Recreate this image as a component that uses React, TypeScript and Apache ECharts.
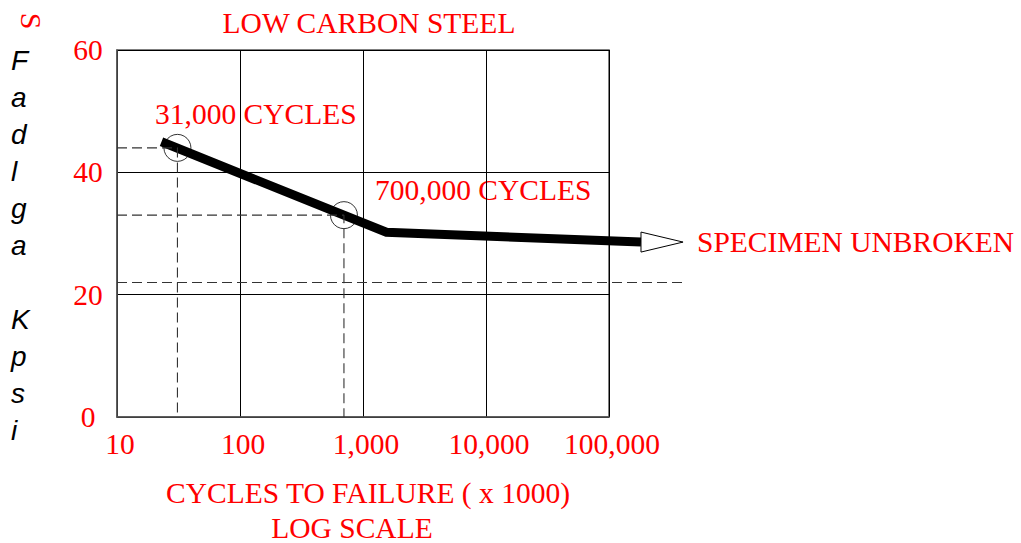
import React, { useEffect, useRef } from "react";
import * as echarts from "echarts";

// ---- data ----
const xMin = 10;
const xMax = 100000;
const yMin = 0;
const yMax = 60;
const yInterval = 20;
const curve: number[][] = [[23, 45], [1550, 30.2], [182000, 28.6]];
const arrowData: number[][] = [[182000, 28.6, 400000]];
const markedPoints: number[][] = [[31, 44], [700, 33]];
const guide31: number[][] = [[10, 44], [31, 44], [31, 0]];
const guide700: number[][] = [[10, 33], [700, 33], [700, 0]];
const enduranceLine: number[][] = [[10, 22], [400000, 22]];
const titleText = "LOW CARBON STEEL";
const xNameLine1 = "CYCLES TO FAILURE ( x 1000)";
const xNameLine2 = "LOG SCALE";
const note31 = "31,000 CYCLES";
const note700 = "700,000 CYCLES";
const noteUnbroken = "SPECIMEN UNBROKEN";
const yTitleLetters = ["F", "a", "d", "l", "g", "a", "", "K", "p", "s", "i"];
const yTitleTop = "S";

const RED = "#ff0000";
const SERIF = '"Liberation Serif", "Times New Roman", serif';
const SANS = '"Liberation Sans", Arial, sans-serif';
const DASH_COLOR = "#333333";
const FS = 29.5;

function redText(text: string, x: number, y: number, align: string = "left") {
  return {
    type: "text",
    x,
    y,
    style: {
      text,
      fill: RED,
      fontSize: FS,
      fontFamily: SERIF,
      align,
      verticalAlign: "middle",
    },
  };
}

// custom series drawing a whole polyline (unclipped) through the axis scales
function polylineSeries(points: number[][], style: any) {
  return {
    type: "custom",
    data: points,
    clip: false,
    silent: true,
    renderItem: (params: any, api: any) => {
      if (params.dataIndex !== 0) return null;
      const pts = points.map((p) => api.coord(p));
      return {
        type: "polyline",
        shape: { points: pts },
        style: { fill: "none", ...style },
      };
    },
  };
}

export default function App() {
  const ref = useRef<HTMLDivElement>(null);

  useEffect(() => {
    if (!ref.current) return;
    const chart = echarts.init(ref.current, undefined, { renderer: "svg" });

    const letterEls = yTitleLetters
      .map((ch, i) => ({ ch, i }))
      .filter((o) => o.ch !== "")
      .map((o) => ({
        type: "text",
        x: 11,
        y: 60.5 + o.i * 37,
        style: {
          text: o.ch,
          fill: "#000",
          fontSize: 28,
          fontStyle: "italic",
          fontFamily: SANS,
          align: "left",
          verticalAlign: "middle",
        },
      }));

    const dashed = { color: DASH_COLOR, width: 1.1, type: [10, 5] as any };

    chart.setOption({
      animation: false,
      grid: {
        left: 117,
        right: 412,
        top: 50,
        bottom: 126,
        show: true,
        borderColor: "#555",
        borderWidth: 1.5,
      },
      xAxis: {
        type: "log",
        logBase: 10,
        min: xMin,
        max: xMax,
        axisLine: { show: true, lineStyle: { color: "#555", width: 1.5 } },
        axisTick: { show: false },
        splitLine: { show: true, lineStyle: { color: "#000", width: 1 } },
        axisLabel: {
          color: RED,
          fontFamily: SERIF,
          fontSize: FS,
          margin: 12,
          padding: [0, 0, 0, 6],
          formatter: (v: number) => Math.round(v).toLocaleString("en-US"),
        },
      },
      yAxis: {
        type: "value",
        min: yMin,
        max: yMax,
        interval: yInterval,
        axisLine: { show: true, lineStyle: { color: "#555", width: 1.5 } },
        axisTick: { show: false },
        splitLine: { show: true, lineStyle: { color: "#000", width: 1 } },
        axisLabel: {
          color: RED,
          fontFamily: SERIF,
          fontSize: FS,
          align: "center",
          margin: 29,
        },
      },
      series: [
        {
          type: "line",
          data: guide31,
          symbol: "none",
          clip: false,
          lineStyle: dashed,
          silent: true,
        },
        {
          type: "line",
          data: guide700,
          symbol: "none",
          clip: false,
          lineStyle: dashed,
          silent: true,
        },
        polylineSeries(enduranceLine, {
          stroke: DASH_COLOR,
          lineWidth: 1.1,
          lineDash: [10, 5],
        }),
        {
          type: "scatter",
          data: markedPoints,
          symbol: "circle",
          symbolSize: 27,
          clip: false,
          itemStyle: { color: "rgba(0,0,0,0)", borderColor: "#000", borderWidth: 1 },
          silent: true,
        },
        polylineSeries(curve, {
          stroke: "#000",
          lineWidth: 9,
          lineJoin: "miter",
          lineCap: "butt",
        }),
        {
          type: "custom",
          data: arrowData,
          clip: false,
          silent: true,
          renderItem: (params: any, api: any) => {
            const base = api.coord([api.value(0), api.value(1)]);
            const tip = api.coord([api.value(2), api.value(1)]);
            return {
              type: "polygon",
              shape: {
                points: [
                  [base[0], base[1] - 10],
                  [tip[0], base[1]],
                  [base[0], base[1] + 10],
                ],
              },
              style: { fill: "#fff", stroke: "#000", lineWidth: 1 },
            };
          },
        },
      ],
      graphic: [
        redText(titleText, 369, 23, "center"),
        redText(note31, 155, 114),
        redText(note700, 375, 190),
        redText(noteUnbroken, 697, 242),
        redText(xNameLine1, 368, 493, "center"),
        redText(xNameLine2, 352, 528, "center"),
        {
          type: "text",
          x: 31,
          y: 21,
          rotation: -Math.PI / 2,
          style: {
            text: yTitleTop,
            fill: RED,
            fontSize: 30,
            fontFamily: SERIF,
            align: "center",
            verticalAlign: "middle",
          },
        },
        ...letterEls,
      ],
    });

    return () => chart.dispose();
  }, []);

  return (
    <div
      ref={ref}
      style={{ position: "fixed", left: 0, top: 0, width: 1021, height: 543, background: "#fff" }}
    />
  );
}
